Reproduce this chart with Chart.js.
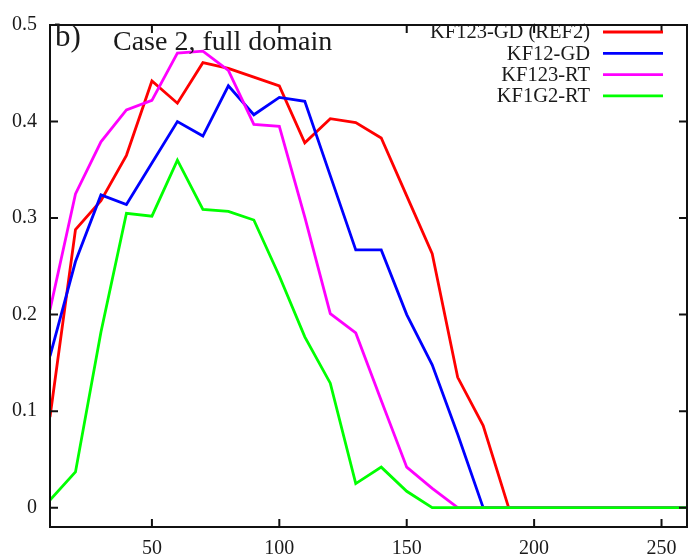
<!DOCTYPE html>
<html>
<head>
<meta charset="utf-8">
<script src="https://cdn.jsdelivr.net/npm/chart.js@4/dist/chart.umd.min.js"></script>
<style>
  body { margin: 0; background: #fff; }
  #wrap { width: 690px; height: 558px; }
</style>
</head>
<body>
<div id="wrap"><canvas id="graph_area" width="690" height="558"></canvas></div>
<script>
// x positions (every 10)
var xValues = [10, 20, 30, 40, 50, 60, 70, 80, 90, 100, 110, 120, 130, 140, 150, 160, 170, 180, 190, 200, 210, 220, 230, 240, 250, 260];
var xTicks = [50, 100, 150, 200, 250];
var yTicks = [0, 0.1, 0.2, 0.3, 0.4, 0.5];

var seriesNames = ["KF123-GD (REF2)", "KF12-GD", "KF123-RT", "KF1G2-RT"];
var seriesColors = ["#ff0000", "#0000ff", "#ff00ff", "#00ff00"];

var kf123gd = [0.094, 0.288, 0.318, 0.365, 0.442, 0.419, 0.461, 0.455, 0.446, 0.437, 0.378, 0.403, 0.399, 0.383, 0.323, 0.263, 0.135, 0.085, 0, 0, 0, 0, 0, 0, 0, 0];
var kf12gd = [0.157, 0.255, 0.324, 0.314, 0.357, 0.400, 0.385, 0.437, 0.407, 0.425, 0.421, 0.344, 0.267, 0.267, 0.200, 0.148, 0.076, 0, 0, 0, 0, 0, 0, 0, 0, 0];
var kf123rt = [0.205, 0.325, 0.379, 0.412, 0.422, 0.471, 0.473, 0.453, 0.397, 0.395, 0.301, 0.201, 0.181, 0.111, 0.042, 0.020, 0, 0, 0, 0, 0, 0, 0, 0, 0, 0];
var kf1g2rt = [0.008, 0.037, 0.182, 0.305, 0.302, 0.360, 0.309, 0.307, 0.298, 0.240, 0.177, 0.129, 0.025, 0.042, 0.017, 0, 0, 0, 0, 0, 0, 0, 0, 0, 0, 0];

var allSeries = [kf123gd, kf12gd, kf123rt, kf1g2rt];

// 枠と内向き目盛り、凡例、注記
var framePlugin = {
  id: 'frame',
  afterDraw: function (chart) {
    var ctx = chart.ctx;
    var a = chart.chartArea;
    var xs = chart.scales.x, ys = chart.scales.y;
    var tl = 8;
    ctx.save();
    ctx.strokeStyle = '#111';
    ctx.lineWidth = 2;
    ctx.strokeRect(a.left, a.top, a.right - a.left, a.bottom - a.top);
    ctx.beginPath();
    xTicks.forEach(function (v) {
      var px = xs.getPixelForValue(v);
      ctx.moveTo(px, a.bottom); ctx.lineTo(px, a.bottom - tl);
      ctx.moveTo(px, a.top); ctx.lineTo(px, a.top + tl);
    });
    yTicks.forEach(function (v) {
      var py = ys.getPixelForValue(v);
      ctx.moveTo(a.left, py); ctx.lineTo(a.left + tl, py);
      ctx.moveTo(a.right, py); ctx.lineTo(a.right - tl, py);
    });
    ctx.stroke();

    // 注記
    ctx.fillStyle = '#1a1a1a';
    ctx.textBaseline = 'alphabetic';
    ctx.textAlign = 'left';
    ctx.font = '31px "Liberation Serif"';
    ctx.fillText('b)', 55, 46);
    ctx.font = '28px "Liberation Serif"';
    ctx.fillText('Case 2, full domain', 113, 50);

    // 凡例
    ctx.font = '20.5px "Liberation Serif"';
    ctx.textAlign = 'right';
    ctx.textBaseline = 'middle';
    chart.data.datasets.forEach(function (ds, i) {
      var y = 32 + i * 21.3;
      ctx.fillStyle = '#1a1a1a';
      ctx.fillText(ds.label, 590, y + 1);
      ctx.strokeStyle = ds.borderColor;
      ctx.lineWidth = 2.8;
      ctx.beginPath();
      ctx.moveTo(603, y); ctx.lineTo(663, y);
      ctx.stroke();
    });
    ctx.restore();
  }
};

var datasets = [];
for (var i = 0; i < allSeries.length; i++) {
  datasets.push({
    label: seriesNames[i],
    data: xValues.map(function (x, k) { return { x: x, y: allSeries[i][k] }; }),
    borderColor: seriesColors[i],
    backgroundColor: seriesColors[i],
    borderWidth: 2.8,
    pointRadius: 0,
    tension: 0,
    fill: false,
    order: allSeries.length - 1 - i
  });
}

var ctx = document.getElementById('graph_area').getContext('2d');
new Chart(ctx, {
  type: 'line',
  data: { datasets: datasets },
  options: {
    responsive: false,
    animation: false,
    layout: { padding: { top: 12, right: 3, left: 0, bottom: 0 } },
    plugins: { legend: { display: false }, tooltip: { enabled: false } },
    scales: {
      x: {
        type: 'linear',
        min: 10,
        max: 260,
        grid: { display: false, drawTicks: false },
        border: { display: false },
        afterBuildTicks: function (scale) {
          scale.ticks = xTicks.map(function (v) { return { value: v }; });
        },
        afterFit: function (scale) { scale.height = 31; },
        ticks: {
          padding: 10,
          color: '#1a1a1a',
          maxRotation: 0,
          font: { family: '"Liberation Serif"', size: 20 }
        }
      },
      y: {
        min: -0.02,
        max: 0.5,
        grid: { display: false, drawTicks: false },
        border: { display: false },
        afterBuildTicks: function (scale) {
          scale.ticks = yTicks.map(function (v) { return { value: v }; });
        },
        afterFit: function (scale) { scale.width = 50; },
        ticks: {
          padding: 13,
          color: '#1a1a1a',
          font: { family: '"Liberation Serif"', size: 20 },
          callback: function (v) { return String(Math.round(v * 10) / 10); }
        }
      }
    }
  },
  plugins: [framePlugin]
});
</script>
</body>
</html>
